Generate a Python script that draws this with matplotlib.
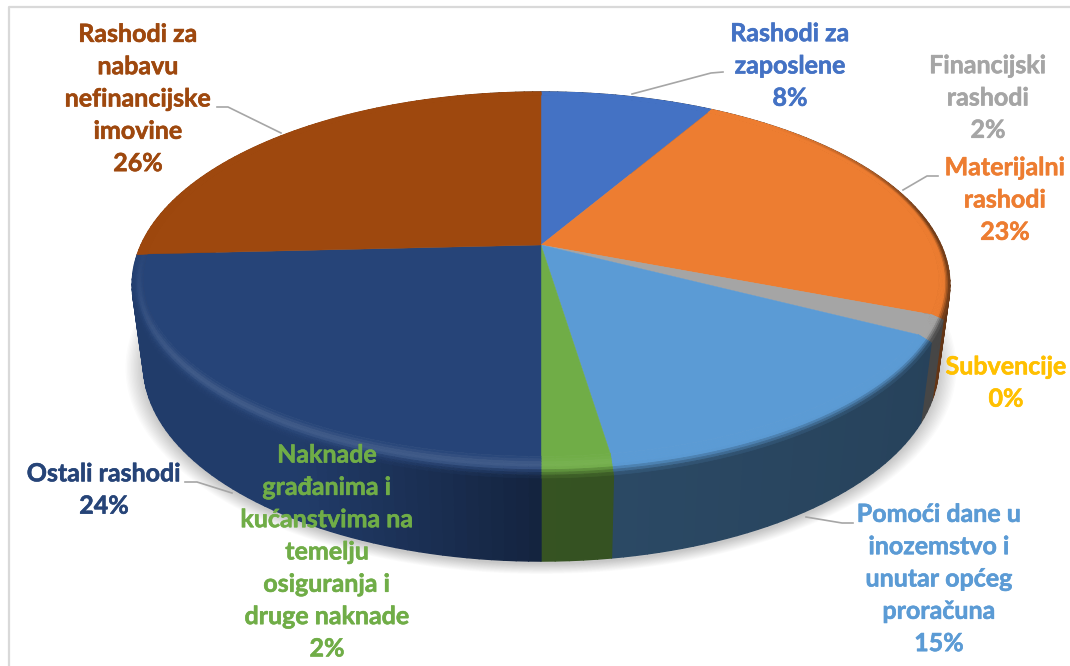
import numpy as np
import matplotlib
matplotlib.use("Agg")
import matplotlib.pyplot as plt
import matplotlib.patheffects as pe
from matplotlib.collections import PolyCollection

# slice shares, the printed labels are rounded
categories = ["Rashodi za zaposlene", "Materijalni rashodi", "Financijski rashodi",
              "Subvencije", "Pomoći dane u inozemstvo i unutar općeg proračuna",
              "Naknade građanima i kućanstvima na temelju osiguranja i druge naknade",
              "Ostali rashodi", "Rashodi za nabavu nefinancijske imovine"]
values = [8.4, 22.7, 1.8, 0.0, 14.8, 2.3, 24.2, 25.8]
colors = ["#4472c4", "#ed7d31", "#a5a5a5", "#ffc000", "#5b9bd5", "#70ad47", "#264478", "#9e480e"]
label_texts = ["Rashodi za\nzaposlene\n8%", "Materijalni\nrashodi\n23%", "Financijski\nrashodi\n2%",
               "Subvencije\n0%", "Pomoći dane u\ninozemstvo i\nunutar općeg\nproračuna\n15%",
               "Naknade\ngrađanima i\nkućanstvima na\ntemelju\nosiguranja i\ndruge naknade\n2%",
               "Ostali rashodi\n24%", "Rashodi za\nnabavu\nnefinancijske\nimovine\n26%"]
label_x = [790, 1005, 988, 1006, 939, 327, 104, 138]
label_y = [66, 200, 98, 383, 579, 552, 490, 99]
rim_glow = [0.0, 0.0, 0.0, 0.0, 0.0, 0.05, 0.12, 0.0]
rim_dark = [0.6, 1.0, 1.0, 1.0, 1.0, 1.0, 1.0, 0.0]

leaders = [
    ([723, 711, 632], [72, 73, 94]),
    ([938, 927, 903], [176, 176, 190]),
    ([853, 842, 806], [523, 523, 517]),
    ([185, 197, 232], [482, 482, 493]),
    ([217, 228, 281], [107, 107, 133]),
]

CX = 541
TOP = dict(cy=245, r=400, a=184.7)
BOTTOM = dict(cy=324, r=389, a=188)
K = 0.207
RX, RY = 0.975, 0.925


def project(x, y, disc):
    # tilted disc seen in perspective: near edge is larger than the far edge
    d = 1 + K * y
    return CX + disc["r"] * x / d, disc["cy"] - disc["a"] * y / d


def rim_point(a, t):
    # t=0 inner edge of the rounded rim, t=1 outer edge; rim is wider at the front
    y = np.cos(a)
    ry_in = RX + (RY - RX) * np.clip((0.3 - y) / 0.8, 0, 1)
    rx = RX + (1 - RX) * t
    ry = ry_in + (1 - ry_in) * t
    return project(rx * np.sin(a), ry * y, TOP)


def blend(c1, c2, t):
    return tuple(np.array(c1) * (1 - t) + np.array(c2) * t)


def wall_shade(x):
    if x >= 0:
        return 0.42 + 0.06 * (1 - x)
    return 0.52 + 0.36 * min(1, abs(x) * 2.0)


plt.rcParams["font.family"] = ["Lato", "DejaVu Sans"]
fig = plt.figure(figsize=(10.7, 6.66), dpi=100)
ax = fig.add_axes([0, 0, 1, 1])
ax.set_xlim(0, 1070)
ax.set_ylim(666, 0)
ax.axis("off")

# frame of the pasted chart, only top and left are inside the crop
ax.plot([9, 9, 1070], [665, 7, 7], color="#d9d9d9", linewidth=1.6, zorder=1)

# soft shadow below the pie
u = np.linspace(0, 2 * np.pi, 300)
for e in np.linspace(0.05, 0.0, 14):
    sx, sy = project(np.sin(u), np.cos(u), BOTTOM)
    sx = CX + (sx - CX) * (1 + e * 0.9)
    sy = 363 + (sy - 363) * (1 + e) + 3
    ax.fill(sx, sy, color="black", alpha=0.014, linewidth=0, zorder=1)

bounds = np.concatenate([[0], np.cumsum(values)]) / np.sum(values) * 2 * np.pi

# walls first, top surface goes over them
for i, col in enumerate(colors):
    if values[i] == 0:
        continue
    base = matplotlib.colors.to_rgb(col)
    n = max(2, int((bounds[i + 1] - bounds[i]) * 40))
    th = np.linspace(bounds[i], bounds[i + 1], n + 1)
    polys, fcs = [], []
    for a0, a1 in zip(th[:-1], th[1:]):
        x0, y0 = np.sin(a0), np.cos(a0)
        x1, y1 = np.sin(a1), np.cos(a1)
        polys.append([project(x0, y0, TOP), project(x1, y1, TOP), project(x1, y1, BOTTOM), project(x0, y0, BOTTOM)])
        fcs.append(tuple(np.array(base) * wall_shade((x0 + x1) / 2)))
    ax.add_collection(PolyCollection(polys, facecolors=fcs, edgecolors=fcs, linewidths=1.0, zorder=2))

for i, col in enumerate(colors):
    if values[i] == 0:
        continue
    base = matplotlib.colors.to_rgb(col)
    n = max(2, int((bounds[i + 1] - bounds[i]) * 40))
    th = np.linspace(bounds[i], bounds[i + 1], n + 1)
    fx, fy = rim_point(th, 0.0)
    ax.fill(np.r_[CX, fx], np.r_[TOP["cy"], fy], color=col, linewidth=0.3, zorder=3)

    # rounded rim between the top surface and the wall
    polys, fcs = [], []
    steps = np.linspace(0, 1, 9)
    for t0, t1 in zip(steps[:-1], steps[1:]):
        for a0, a1 in zip(th[:-1], th[1:]):
            polys.append([rim_point(a0, t0), rim_point(a1, t0), rim_point(a1, t1), rim_point(a0, t1)])
            am = (a0 + a1) / 2
            x, y = np.sin(am), np.cos(am)
            tm = (t0 + t1) / 2
            glow = rim_glow[i] * np.clip(-y * 1.6, 0, 1)
            c = blend(base, (1, 1, 1), glow * np.exp(-((tm - 0.4) / 0.25) ** 2))
            # far edge stays sharp, near and right edges fall off into the wall
            w = rim_dark[i] * np.clip((0.75 - y) / 0.6, 0, 1)
            if x < 0:
                w *= np.clip(-y * 3, 0, 1)
            fade = np.clip((tm - 0.55) / 0.45, 0, 1) * w
            c = blend(c, tuple(np.array(base) * wall_shade(x)), fade)
            fcs.append(c)
    ax.add_collection(PolyCollection(polys, facecolors=fcs, edgecolors=fcs, linewidths=0.6, zorder=3))

for lx, ly in leaders:
    ax.plot(lx, ly, color="#a6a6a6", linewidth=1.2, zorder=4)

for txt, x, y, col in zip(label_texts, label_x, label_y, colors):
    t = ax.text(x, y, txt, ha="center", va="center", color=col, fontsize=18, fontweight="bold",
                linespacing=1.49, zorder=5)
    # Calibri bold in the source is heavier than Lato bold
    t.set_path_effects([pe.withStroke(linewidth=0.4, foreground=col)])

fig.savefig("out.png", dpi=100)
